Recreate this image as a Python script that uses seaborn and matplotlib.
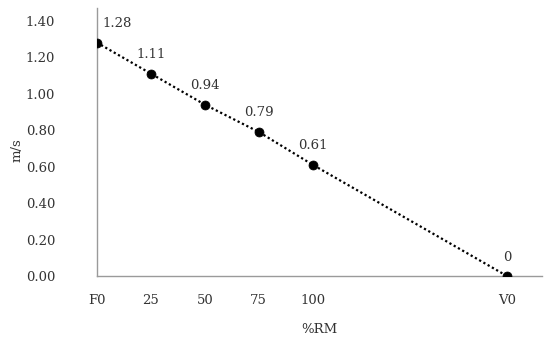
import matplotlib
matplotlib.use("Agg")
import matplotlib.pyplot as plt
import seaborn as sns
import pandas as pd

# data
pct_rm = [0, 25, 50, 75, 100, 190]
tick_labels = ["F0", "25", "50", "75", "100", "V0"]
velocity = [1.28, 1.11, 0.94, 0.79, 0.61, 0]
point_labels = ["1.28", "1.11", "0.94", "0.79", "0.61", "0"]
y_ticks = [0, 0.2, 0.4, 0.6, 0.8, 1.0, 1.2, 1.4]

df = pd.DataFrame({"pct": pct_rm, "v": velocity})

sns.set_theme(style="white")
plt.rcParams['font.family'] = ['DejaVu Serif']

fig = plt.figure(figsize=(5.5, 3.43), dpi=100)
ax = fig.add_axes([0.176, 0.195, 0.809, 0.782])

sns.lineplot(data=df, x="pct", y="v", ax=ax, color="black",
             linestyle=(0, (1, 1.2)), linewidth=1.6)
sns.scatterplot(data=df, x="pct", y="v", ax=ax, color="black",
                s=42, edgecolor="black", zorder=3)

# value labels
for i, (x, y, t) in enumerate(zip(pct_rm, velocity, point_labels)):
    dx = 20 if i == 0 else 0
    ax.annotate(t, (x, y), textcoords="offset pixels", xytext=(dx, 19),
                ha="center", va="center", fontsize=9.5, color="#333333")

ax.set_xlim(0, 206)
ax.set_ylim(0, 1.47)
ax.set_xticks(pct_rm)
ax.set_xticklabels(tick_labels)
ax.set_yticks(y_ticks)
ax.set_yticklabels([f"{v:.2f}" for v in y_ticks])
ax.tick_params(axis="both", length=0, labelsize=9.5, labelcolor="#333333")
ax.tick_params(axis="y", pad=30)
ax.tick_params(axis="x", pad=13)

ax.set_xlabel("%RM", fontsize=9.5, color="#333333")
ax.set_ylabel("m/s", fontsize=9.5, color="#333333")
ax.xaxis.set_label_coords(0.5, -0.176)
ax.yaxis.set_label_coords(-0.165, 0.47)

sns.despine(ax=ax)
for s in ["left", "bottom"]:
    ax.spines[s].set_color("#9a9a9a")
    ax.spines[s].set_linewidth(1.0)

fig.savefig("out.png", dpi=100, facecolor="white")
